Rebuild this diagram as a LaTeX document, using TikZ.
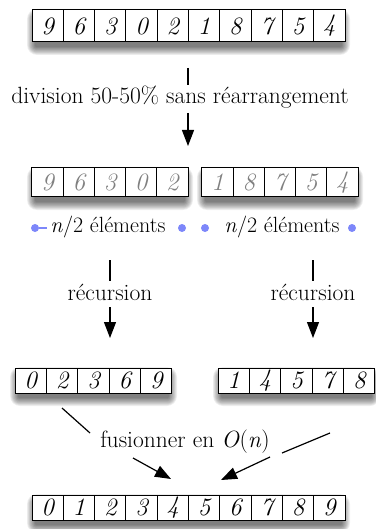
\documentclass[tikz,border=0pt]{standalone}
\usepackage{fontspec}
\usetikzlibrary{arrows.meta}
\definecolor{dotblue}{RGB}{125,135,250}
\newcommand\rowshade[4]{%
  \foreach \k in {1,...,10}
    \fill[black, opacity=0.065, rounded corners=\k pt]
      ({#1-\k*0.9+4},{#2+8-\k*0.9}) rectangle ({#3+\k*0.9-4},{#4+4+\k*0.9});
}
\tikzset{
  cell/.style={draw, fill=white, line width=1pt, minimum width=31.3pt, inner sep=0pt, font=\fontsize{25}{25}\selectfont\itshape},
  graycell/.style={cell, text=black!50},
  lbl/.style={inner sep=1pt, fill=white, font=\fontsize{23.5}{23.5}\selectfont},
  seg/.style={line width=1.2pt},
  arr/.style={line width=1.2pt, -{Triangle[length=16pt,width=12pt]}},
  bdot/.style={circle, fill=dotblue, inner sep=0pt, minimum size=8pt},
}
\begin{document}
\begin{tikzpicture}[x=1pt,y=-1pt]
\useasboundingbox (0,0) rectangle (375,529);
% top array
\rowshade{32}{10}{345}{42}
\foreach \d [count=\i] in {9,6,3,0,2,1,8,7,5,4}
  \node[cell, minimum height=32pt] (t\i) at ({32+31.3*(\i-0.5)},26) {\d};
% division
\node[lbl, fill=none] (div) at (180,97) {division 50-50\% sans réarrangement};
\coordinate (d1) at (188,68); \coordinate (d2) at (188,85);
\coordinate (d3) at (188,113); \coordinate (d4) at (188,146);
\draw[seg] (d1) -- (d2);
\draw[arr] (d3) -- (d4);
% middle arrays
\rowshade{32}{168}{188}{197}
\foreach \d [count=\i] in {9,6,3,0,2}
  \node[graycell, minimum height=29pt] (ml\i) at ({32+31.2*(\i-0.5)},182.5) {\d};
\rowshade{202}{168}{358}{197}
\foreach \d [count=\i] in {1,8,7,5,4}
  \node[graycell, minimum height=29pt] (mr\i) at ({202+31.2*(\i-0.5)},182.5) {\d};
% n/2 labels
\node[bdot] (p1) at (35,228) {};
\node[bdot] (p2) at (182,228) {};
\node[bdot] (p3) at (205,228) {};
\node[bdot] (p4) at (352,228) {};
\coordinate (p1e) at (47,228);
\draw[dotblue, line width=1.5pt] (p1) -- (p1e);
\node[lbl, fill=none, font=\fontsize{22}{22}\selectfont] (nl) at (108,227) {\textit{n}/2 éléments};
\node[lbl, fill=none, font=\fontsize{22}{22}\selectfont] (nr) at (282,227) {\textit{n}/2 éléments};
% recursion
\node[lbl] (rl) at (110,292) {récursion};
\node[lbl] (rr) at (313,292) {récursion};
\coordinate (l1) at (110,260); \coordinate (l2) at (110,281);
\coordinate (l3) at (110,307); \coordinate (l4) at (110,338);
\coordinate (r1) at (313,260); \coordinate (r2) at (313,281);
\coordinate (r3) at (313,307); \coordinate (r4) at (313,338);
\draw[seg] (l1) -- (l2); \draw[arr] (l3) -- (l4);
\draw[seg] (r1) -- (r2); \draw[arr] (r3) -- (r4);
% sorted halves
\rowshade{15}{368}{172}{393}
\foreach \d [count=\i] in {0,2,3,6,9}
  \node[cell, minimum height=25pt] (sl\i) at ({15+31.4*(\i-0.5)},380.5) {\d};
\rowshade{218}{368}{375}{393}
\foreach \d [count=\i] in {1,4,5,7,8}
  \node[cell, minimum height=25pt] (sr\i) at ({218+31.4*(\i-0.5)},380.5) {\d};
% merge
\node[lbl] (fu) at (185,442) {fusionner en \textit{O}(\textit{n})};
\coordinate (f1) at (62,408); \coordinate (f2) at (90,433);
\coordinate (f3) at (330,433); \coordinate (f4) at (282,453);
\coordinate (f5) at (133,458); \coordinate (f6) at (171,479);
\coordinate (f7) at (270,457); \coordinate (f8) at (221,480);
\draw[seg] (f1) -- (f2); \draw[seg] (f3) -- (f4);
\draw[arr] (f5) -- (f6); \draw[arr] (f7) -- (f8);
% final array
\rowshade{32}{495}{345}{520}
\foreach \d [count=\i] in {0,1,2,3,4,5,6,7,8,9}
  \node[cell, minimum height=25pt] (b\i) at ({32+31.3*(\i-0.5)},507.5) {\d};
\end{tikzpicture}
\end{document}
